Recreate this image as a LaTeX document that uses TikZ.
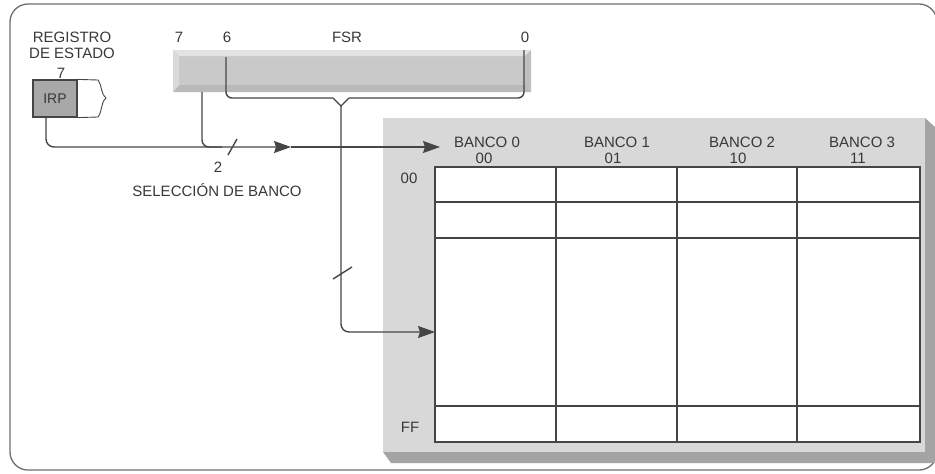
\documentclass[tikz,border=0pt]{standalone}
\usepackage{fontspec}
\setmainfont{Liberation Sans}
\usetikzlibrary{arrows.meta}
\definecolor{linec}{HTML}{454545}
\definecolor{txtc}{HTML}{383838}
\definecolor{panell}{HTML}{D8D8D8}
\definecolor{paneld}{HTML}{A4A4A4}
\definecolor{irpfill}{HTML}{A8A8A8}
\definecolor{framec}{HTML}{6E6E6E}
\definecolor{barc}{HTML}{C9C9C9}
\tikzset{
  lbl/.style={text=txtc, font=\fontsize{15}{17}\selectfont, inner sep=0pt, anchor=center},
  conn/.style={draw=linec, line width=1.4pt},
  tip/.style={-{Stealth[length=17pt,width=12pt,inset=2pt]}},
  gridline/.style={draw=linec, line width=1.2pt},
}
\begin{document}
\begin{tikzpicture}[x=1pt,y=-1pt]
\useasboundingbox (0,0) rectangle (935,474);
% outer frame
\draw[framec, line width=1.3pt, rounded corners=18pt] (10,4) rectangle (937,470);

% memory panel
\fill[paneld] (925,118) -- (935,127) -- (935,463) -- (391,463) -- (383,452) -- (925,452) -- cycle;
\fill[panell] (383,118) rectangle (925,452);
\node[draw=linec, line width=1.2pt, fill=white, minimum width=485pt, minimum height=275pt, inner sep=0pt] (grid) at (677.5,304.5) {};
\draw[gridline] (556,167) -- (556,442);
\draw[gridline] (677,167) -- (677,442);
\draw[gridline] (797,167) -- (797,442);
\draw[gridline] (435,202) -- (920,202);
\draw[gridline] (435,238) -- (920,238);
\draw[gridline] (435,406) -- (920,406);

\node[lbl] (b0) at (487,142) {BANCO 0};
\node[lbl] (c0) at (484,158) {00};
\node[lbl] (b1) at (617,142) {BANCO 1};
\node[lbl] (c1) at (613,158) {01};
\node[lbl] (b2) at (742,142) {BANCO 2};
\node[lbl] (c2) at (738,158) {10};
\node[lbl] (b3) at (862,142) {BANCO 3};
\node[lbl] (c3) at (858,158) {11};
\node[lbl] (r0) at (409,178) {00};
\node[lbl] (rf) at (410,427) {FF};

% FSR bar
\fill[barc] (173,50) rectangle (531,92);
\fill[gray!22] (173,50) -- (531,50) -- (525,56) -- (179,56) -- cycle;
\fill[gray!55] (173,92) -- (531,92) -- (525,85) -- (179,85) -- cycle;
\fill[gray!50] (531,50) -- (531,92) -- (525,85) -- (525,56) -- cycle;
\fill[gray!30] (173,50) -- (179,56) -- (179,85) -- (173,92) -- cycle;
\node[lbl] (f7) at (179,37) {7};
\node[lbl] (f6) at (227,37) {6};
\node[lbl] (fsr) at (347,37) {FSR};
\node[lbl] (f0) at (525,37) {0};

% status register
\node[lbl] (reg1) at (72,37) {REGISTRO};
\node[lbl] (reg2) at (72,53) {DE ESTADO};
\node[lbl] (s7) at (61,73) {7};
\node[draw=linec, line width=1.2pt, fill=irpfill, minimum width=44pt, minimum height=37pt, inner sep=0pt, text=txtc, font=\fontsize{14}{16}\selectfont] (irp) at (55,98.5) {IRP};
\draw[linec, line width=0.9pt] (irp.north east) -- (98,80)
  .. controls (103,88) and (100,92) .. (106,98)
  .. controls (100,104) and (103,110) .. (98,117) -- (irp.south east);

% connectors
\coordinate (irpb) at (46,117);
\coordinate (mid) at (291,147);
\coordinate (bk) at (440,147);
\coordinate (b7) at (202,92);
\coordinate (j7) at (222,147);
\coordinate (b6) at (226,57);
\coordinate (bz) at (524,50);
\coordinate (vL) at (333,98);
\coordinate (vA) at (341,106);
\coordinate (vR) at (349,98);
\coordinate (ga) at (435,332);

\draw[conn, tip, rounded corners=8pt] (irpb) |- (mid);
\draw[conn, tip] (mid) -- (bk);
\draw[conn, rounded corners=7pt] (b7) |- (j7);
\draw[conn, rounded corners=6pt] (b6) |- (vL);
\draw[conn] (vL) -- (vA) -- (vR);
\draw[conn, rounded corners=6pt] (vR) -| (bz);
\draw[conn, tip, rounded corners=8pt] (vA) |- (ga);

% bus slashes
\draw[conn] (228,155) -- (237,139);
\draw[conn] (333,279) -- (352,267);
\node[lbl] (n2) at (218,167) {2};
\node[lbl] (sel) at (217,190) {SELECCIÓN DE BANCO};
\end{tikzpicture}
\end{document}
